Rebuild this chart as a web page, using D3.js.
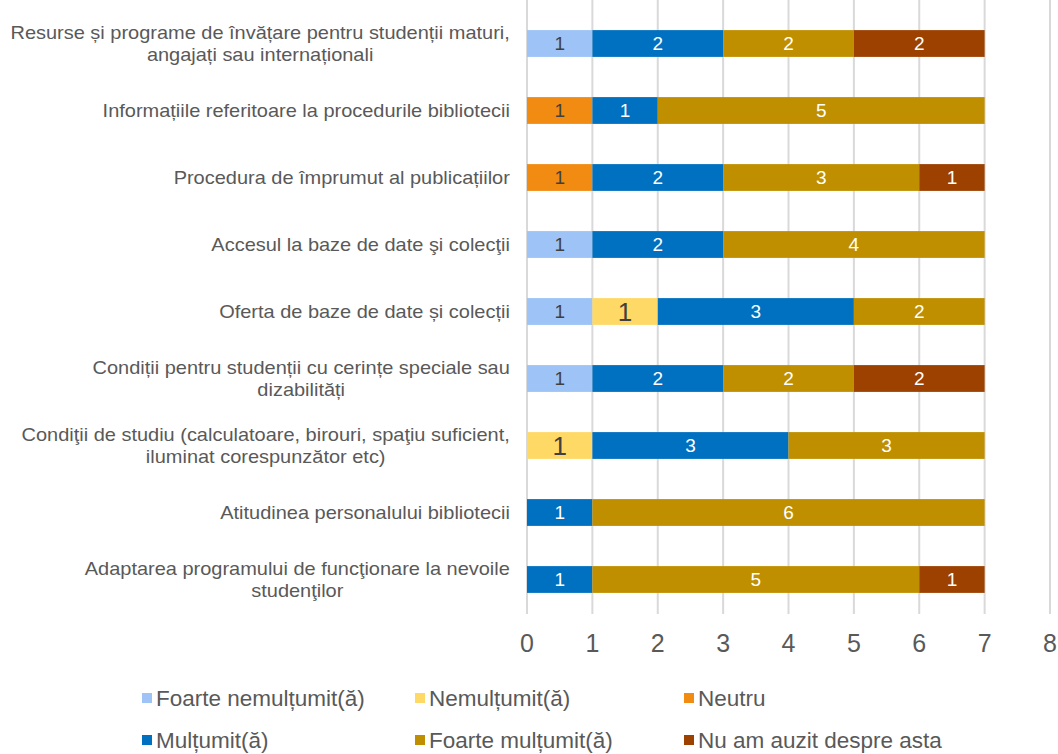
<!DOCTYPE html>
<html>
<head>
<meta charset="utf-8">
<style>
  body { margin: 0; background: #fff; }
  text { font-family: "Liberation Sans", Arial, sans-serif; }
</style>
</head>
<body>
<svg id="chart" width="1058" height="754"></svg>
<script src="https://cdnjs.cloudflare.com/ajax/libs/d3/7.8.5/d3.min.js"></script>
<script>

// categories, top to bottom (each entry = label lines)
var categories = [
  ["Resurse și programe de învățare pentru studenții maturi,", "angajați sau internaționali"],
  ["Informațiile referitoare la procedurile bibliotecii"],
  ["Procedura de împrumut al publicațiilor"],
  ["Accesul la baze de date şi colecţii"],
  ["Oferta de baze de date și colecții"],
  ["Condiții pentru studenții cu cerințe speciale sau", "dizabilități"],
  ["Condiţii de studiu (calculatoare, birouri, spaţiu suficient,", "iluminat corespunzător etc)"],
  ["Atitudinea personalului bibliotecii"],
  ["Adaptarea programului de funcţionare la nevoile", "studenţilor"]
];

var seriesNames = ["Foarte nemulțumit(ă)", "Nemulțumit(ă)", "Neutru", "Mulțumit(ă)", "Foarte mulțumit(ă)", "Nu am auzit despre asta"];

var foarteNemultumit = [1, 0, 0, 1, 1, 1, 0, 0, 0];
var nemultumit       = [0, 0, 0, 0, 1, 0, 1, 0, 0];
var neutru           = [0, 1, 1, 0, 0, 0, 0, 0, 0];
var multumit         = [2, 1, 2, 2, 3, 2, 3, 1, 1];
var foarteMultumit   = [2, 5, 3, 4, 2, 2, 3, 6, 5];
var nuAmAuzit        = [2, 0, 1, 0, 0, 2, 0, 0, 1];

var xTicks = [0, 1, 2, 3, 4, 5, 6, 7, 8];

var colors = ["#9dc3f7", "#ffd966", "#f28b12", "#0070c0", "#bf8f00", "#9c4100"];
var labelColors = ["#404040", "#404040", "#404040", "#ffffff", "#ffffff", "#ffffff"];
var labelSizes = [19, 26, 19, 19, 19, 19];

var series = [foarteNemultumit, nemultumit, neutru, multumit, foarteMultumit, nuAmAuzit];

var svg = d3.select("#chart");

var x = d3.scaleLinear().domain([0, 8]).range([527, 1050]);
var y = d3.scaleBand()
    .domain(d3.range(categories.length))
    .range([10, 613])
    .paddingInner(0.6)
    .paddingOuter(0.3);

// gridlines
svg.append("g")
  .selectAll("line")
  .data(xTicks)
  .enter().append("line")
    .attr("x1", function(d) { return x(d); })
    .attr("x2", function(d) { return x(d); })
    .attr("y1", 0)
    .attr("y2", 614)
    .attr("stroke", "#d9d9d9")
    .attr("stroke-width", 2);

// tick labels
svg.append("g")
  .selectAll("text")
  .data(xTicks)
  .enter().append("text")
    .attr("x", function(d) { return x(d); })
    .attr("y", 643)
    .attr("dy", "0.35em")
    .attr("text-anchor", "middle")
    .attr("font-size", 25)
    .attr("fill", "#595959")
    .text(function(d) { return d; });

// stacked segments
var segs = [];
categories.forEach(function(c, i) {
  var acc = 0;
  series.forEach(function(s, k) {
    if (s[i] > 0) {
      segs.push({row: i, k: k, x0: acc, x1: acc + s[i], v: s[i]});
      acc += s[i];
    }
  });
});

var bars = svg.append("g");
bars.selectAll("rect")
  .data(segs)
  .enter().append("rect")
    .attr("x", function(d) { return x(d.x0); })
    .attr("y", function(d) { return y(d.row); })
    .attr("width", function(d) { return x(d.x1) - x(d.x0); })
    .attr("height", y.bandwidth())
    .attr("fill", function(d) { return colors[d.k]; });

bars.selectAll("text")
  .data(segs)
  .enter().append("text")
    .attr("x", function(d) { return (x(d.x0) + x(d.x1)) / 2; })
    .attr("y", function(d) { return y(d.row) + y.bandwidth() / 2; })
    .attr("dy", "0.36em")
    .attr("text-anchor", "middle")
    .attr("font-size", function(d) { return labelSizes[d.k]; })
    .attr("fill", function(d) { return labelColors[d.k]; })
    .text(function(d) { return d.v; });

// category labels: block right-aligned, lines centred within block
var catG = svg.append("g");
var stretch = 1.11;
categories.forEach(function(lines, i) {
  var g = catG.append("g");
  var cy = y(i) + y.bandwidth() / 2;
  var lh = 22;
  var t = g.selectAll("text")
    .data(lines)
    .enter().append("text")
      .attr("y", function(d, j) { return cy + (j - (lines.length - 1) / 2) * lh; })
      .attr("dy", "0.35em")
      .attr("text-anchor", "middle")
      .attr("font-size", 18)
      .attr("fill", "#595959")
      .text(function(d) { return d; });
  var w = 0;
  t.each(function() { w = Math.max(w, this.getComputedTextLength()); });
  t.attr("x", 0);
  g.attr("transform", "translate(" + (510 - stretch * w / 2) + ",0) scale(" + stretch + ",1)");
});

// legend
var legendPos = [
  [142, 698], [415, 698], [684, 698],
  [142, 740], [415, 740], [684, 740]
];
var legend = svg.append("g")
  .selectAll("g")
  .data(seriesNames)
  .enter().append("g")
    .attr("transform", function(d, i) { return "translate(" + legendPos[i][0] + "," + legendPos[i][1] + ")"; });

legend.append("rect")
    .attr("x", 0)
    .attr("y", -5)
    .attr("width", 10)
    .attr("height", 10)
    .attr("fill", function(d, i) { return colors[i]; });

legend.append("text")
    .attr("x", 14)
    .attr("y", 0)
    .attr("dy", "0.35em")
    .attr("font-size", 22.5)
    .attr("fill", "#595959")
    .text(function(d) { return d; });

</script>
</body>
</html>
